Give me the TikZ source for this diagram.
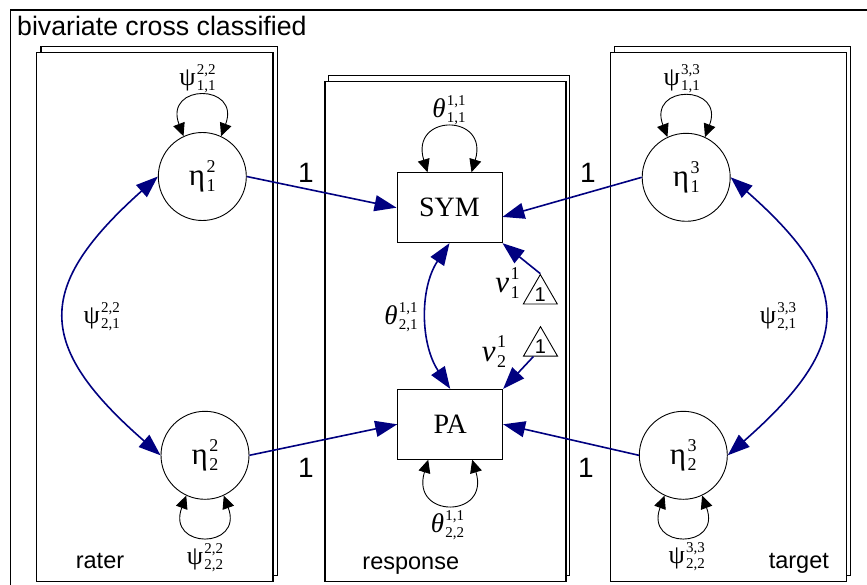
\documentclass[tikz,border=0pt]{standalone}
\usepackage{fontspec}
\setmainfont{Liberation Sans}
\newfontfamily\serif{Liberation Serif}
\usetikzlibrary{arrows.meta,shapes.geometric,calc}
\definecolor{navyc}{RGB}{0,0,128}
% base, sup, sub, script size
\newcommand\stk[4]{#1\kern.05em\raisebox{.43em}{\fontsize{#4}{#4}\selectfont #2}\llap{\raisebox{-.19em}{\fontsize{#4}{#4}\selectfont #3}}}
\tikzset{
  plate/.style={draw, fill=white, line width=1.4pt},
  lat/.style={circle, draw, line width=0.9pt, minimum size=88pt, inner sep=0pt, font=\fontsize{31}{31}\serif},
  obs/.style={rectangle, draw, line width=0.9pt, minimum width=105pt, minimum height=70pt, inner sep=0pt, font=\fontsize{28}{28}\serif},
  tri/.style={regular polygon, regular polygon sides=3, draw, line width=0.9pt, minimum size=39.3pt, inner sep=0pt},
  psil/.style={font=\fontsize{26}{26}\serif, inner sep=0pt},
  thel/.style={font=\fontsize{27}{27}\serif, inner sep=0pt},
  nul/.style={font=\fontsize{31}{31}\serif, inner sep=0pt},
  onel/.style={font=\fontsize{28}{28}\selectfont, inner sep=0pt, anchor=base},
  platel/.style={font=\fontsize{23.5}{24}\selectfont, inner sep=0pt, anchor=base},
  loopar/.style={{Triangle[length=13pt,width=12pt]}-{Triangle[length=13pt,width=12pt]}, line width=0.9pt, black},
  navyar/.style={-{Triangle[length=22pt,width=16pt]}, line width=1.6pt, navyc},
  navytwo/.style={{Triangle[length=22pt,width=16pt]}-{Triangle[length=22pt,width=16pt]}, line width=1.6pt, navyc},
}
\begin{document}
\begin{tikzpicture}[x=1pt,y=-1pt]
\useasboundingbox (0,0) rectangle (867,585);
\clip (0,0) rectangle (867,585);
\fill[white] (0,0) rectangle (867,585);
% outer frame
\draw[line width=1.5pt] (10.5,10) rectangle (900,620);
\node[anchor=base west, font=\fontsize{26.7}{30}\selectfont, inner sep=0pt] (title) at (17,36) {bivariate cross classified};
% plates
\draw[plate] (41,46.5) rectangle (277.5,575.5);
\draw[plate] (36.7,52.7) rectangle (273,581.5);
\draw[plate] (328.5,75.5) rectangle (569.5,575.5);
\draw[plate] (325,81.7) rectangle (566,581.7);
\draw[plate] (614.5,46.5) rectangle (850.7,575.5);
\draw[plate] (610.7,52.7) rectangle (846.7,581.7);
\node[platel] (lrater) at (100,568) {rater};
\node[platel] (lresp) at (410.8,569) {response};
\node[platel] (ltarget) at (798.8,568) {target};
% nodes
\node[lat] (e21) at (202.3,176.5) {\stk{η}{2}{1}{18}};
\node[lat] (e22) at (205,455.3) {\stk{η}{2}{2}{18}};
\node[lat] (e31) at (686.2,177.3) {\stk{η}{3}{1}{18}};
\node[lat] (e32) at (683.3,455.3) {\stk{η}{3}{2}{18}};
\node[obs] (sym) at (449.5,207.7) {SYM};
\node[obs] (pa) at (450.2,424.3) {PA};
\node[tri, label={[font=\fontsize{20}{20}\selectfont, inner sep=0pt]center:1}] (t1) at (540.3,294.2) {};
\node[tri, label={[font=\fontsize{20}{20}\selectfont, inner sep=0pt]center:1}] (t2) at (540.5,346.3) {};
% loops
\draw[loopar] (e21.115) .. controls +(-20,-53) and +(20,-53) .. (e21.65);
\draw[loopar] (e31.115) .. controls +(-20,-53) and +(20,-53) .. (e31.65);
\draw[loopar] (e22.245) .. controls +(-20,54) and +(20,54) .. (e22.295);
\draw[loopar] (e32.245) .. controls +(-20,54) and +(20,54) .. (e32.295);
\draw[loopar] ($(sym.north)+(-22,0)$) .. controls +(-18,-59) and +(18,-59) .. ($(sym.north)+(22,0)$);
\draw[loopar] ($(pa.south)+(-22,0)$) .. controls +(-18,59) and +(18,59) .. ($(pa.south)+(22,0)$);
% loop labels
\node[psil] (p2211) at (197.5,79) {\stk{ψ}{2,2}{1,1}{15}};
\node[psil] (p3311) at (681.7,78.3) {\stk{ψ}{3,3}{1,1}{15}};
\node[psil] (p2222) at (205,557.5) {\stk{ψ}{2,2}{2,2}{15}};
\node[psil] (p3322) at (686.7,556.7) {\stk{ψ}{3,3}{2,2}{15}};
\node[thel] (th11) at (449,110.5) {\stk{{\itshape θ}}{1,1}{1,1}{15}};
\node[thel] (th22) at (447.5,525) {\stk{{\itshape θ}}{1,1}{2,2}{15}};
% covariances
\draw[navytwo] (e21.west) .. controls +(-123,110) and +(-126,-110) .. (e22.west);
\draw[navytwo] (e31.east) .. controls +(125,110) and +(125,-110) .. (e32.east);
\draw[navytwo] (sym.south) .. controls +(-30,45) and +(-30,-45) .. (pa.north);
\node[psil] (p2221) at (101.7,316.7) {\stk{ψ}{2,2}{2,1}{15}};
\node[psil] (p3321) at (778,316.7) {\stk{ψ}{3,3}{2,1}{15}};
\node[thel] (th21) at (401,317.5) {\stk{{\itshape θ}}{1,1}{2,1}{15}};
% loadings
\draw[navyar] (e21.east) -- (sym.west);
\draw[navyar] (e31.west) -- ($(sym.south east)!0.37!(sym.north east)$);
\draw[navyar] (e22.east) -- (pa.west);
\draw[navyar] (e32.west) -- (pa.east);
\node[onel] (one1) at (306,183) {1};
\node[onel] (one2) at (588,183) {1};
\node[onel] (one3) at (306,477) {1};
\node[onel] (one4) at (586,477) {1};
% intercepts
\draw[navyar] (t1.corner 1) -- (sym.south east);
\draw[navyar] ($(t2.corner 2)!0.3!(t2.corner 3)$) -- (pa.north east);
\node[nul] (nu1) at (507.5,283) {\stk{{\itshape ν}}{1}{1}{18}};
\node[nul] (nu2) at (494,351.5) {\stk{{\itshape ν}}{1}{2}{18}};
\end{tikzpicture}
\end{document}
